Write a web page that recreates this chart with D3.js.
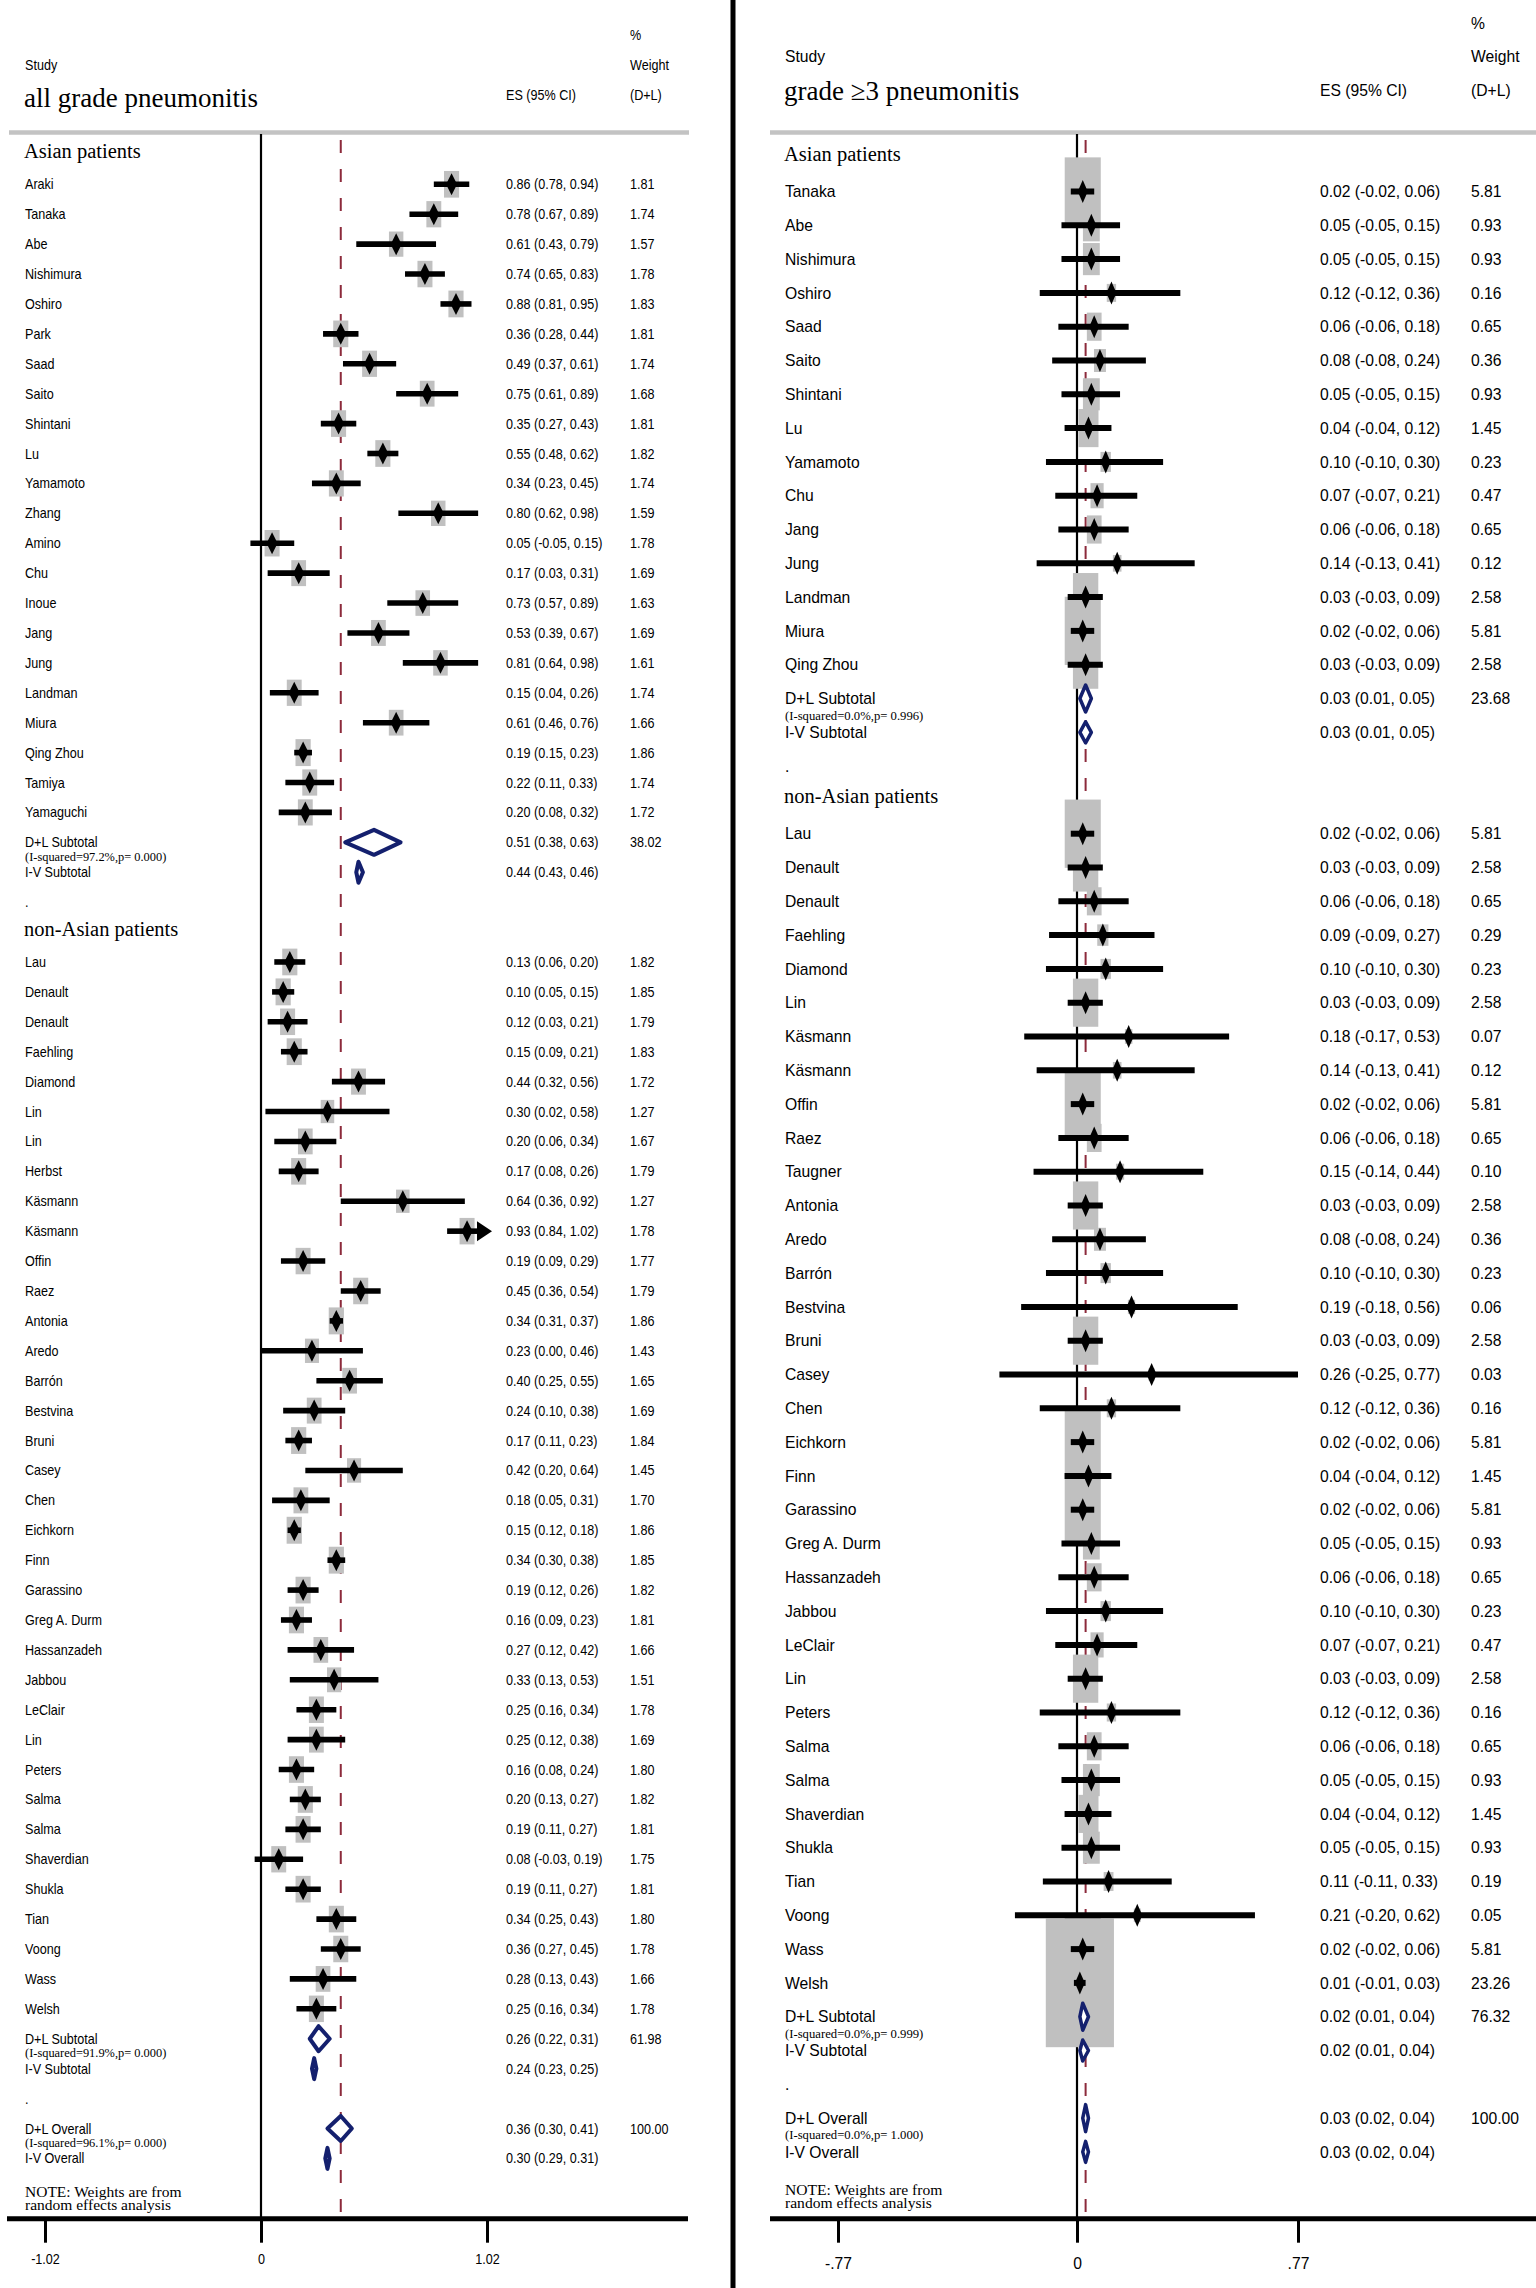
<!DOCTYPE html>
<html>
<head>
<meta charset="utf-8">
<script src="https://cdn.jsdelivr.net/npm/d3@7"></script>
<style>
  body { margin: 0; background: #fff; }
</style>
</head>
<body>
<div id="chart"></div>
<script>
// ---------- all grade pneumonitis ----------
const allAsianStudy = ["Araki","Tanaka","Abe","Nishimura","Oshiro","Park","Saad","Saito","Shintani","Lu","Yamamoto","Zhang","Amino","Chu","Inoue","Jang","Jung","Landman","Miura","Qing Zhou","Tamiya","Yamaguchi"]
const allAsianES = [0.86,0.78,0.61,0.74,0.88,0.36,0.49,0.75,0.35,0.55,0.34,0.80,0.05,0.17,0.73,0.53,0.81,0.15,0.61,0.19,0.22,0.20]
const allAsianLo = [0.78,0.67,0.43,0.65,0.81,0.28,0.37,0.61,0.27,0.48,0.23,0.62,-0.05,0.03,0.57,0.39,0.64,0.04,0.46,0.15,0.11,0.08]
const allAsianHi = [0.94,0.89,0.79,0.83,0.95,0.44,0.61,0.89,0.43,0.62,0.45,0.98,0.15,0.31,0.89,0.67,0.98,0.26,0.76,0.23,0.33,0.32]
const allAsianWt = [1.81,1.74,1.57,1.78,1.83,1.81,1.74,1.68,1.81,1.82,1.74,1.59,1.78,1.69,1.63,1.69,1.61,1.74,1.66,1.86,1.74,1.72]
const allAsianDL = [0.51, 0.38, 0.63, 38.02]
const allAsianHet = ["97.2%", "0.000"]
const allAsianIV = [0.44, 0.43, 0.46]

const allNonAsianStudy = ["Lau","Denault","Denault","Faehling","Diamond","Lin","Lin","Herbst","Käsmann","Käsmann","Offin","Raez","Antonia","Aredo","Barrón","Bestvina","Bruni","Casey","Chen","Eichkorn","Finn","Garassino","Greg A. Durm","Hassanzadeh","Jabbou","LeClair","Lin","Peters","Salma","Salma","Shaverdian","Shukla","Tian","Voong","Wass","Welsh"]
const allNonAsianES = [0.13,0.10,0.12,0.15,0.44,0.30,0.20,0.17,0.64,0.93,0.19,0.45,0.34,0.23,0.40,0.24,0.17,0.42,0.18,0.15,0.34,0.19,0.16,0.27,0.33,0.25,0.25,0.16,0.20,0.19,0.08,0.19,0.34,0.36,0.28,0.25]
const allNonAsianLo = [0.06,0.05,0.03,0.09,0.32,0.02,0.06,0.08,0.36,0.84,0.09,0.36,0.31,0.00,0.25,0.10,0.11,0.20,0.05,0.12,0.30,0.12,0.09,0.12,0.13,0.16,0.12,0.08,0.13,0.11,-0.03,0.11,0.25,0.27,0.13,0.16]
const allNonAsianHi = [0.20,0.15,0.21,0.21,0.56,0.58,0.34,0.26,0.92,1.02,0.29,0.54,0.37,0.46,0.55,0.38,0.23,0.64,0.31,0.18,0.38,0.26,0.23,0.42,0.53,0.34,0.38,0.24,0.27,0.27,0.19,0.27,0.43,0.45,0.43,0.34]
const allNonAsianWt = [1.82,1.85,1.79,1.83,1.72,1.27,1.67,1.79,1.27,1.78,1.77,1.79,1.86,1.43,1.65,1.69,1.84,1.45,1.70,1.86,1.85,1.82,1.81,1.66,1.51,1.78,1.69,1.80,1.82,1.81,1.75,1.81,1.80,1.78,1.66,1.78]
const allNonAsianArrow = [9]   // CI cut at the axis edge
const allNonAsianDL = [0.26, 0.22, 0.31, 61.98]
const allNonAsianHet = ["91.9%", "0.000"]
const allNonAsianIV = [0.24, 0.23, 0.25]

const allOverallDL = [0.36, 0.30, 0.41, 100.00]
const allOverallHet = ["96.1%", "0.000"]
const allOverallIV = [0.30, 0.29, 0.31]
const allTicks = [-1.02, 0, 1.02]
const allTickLabels = ["-1.02", "0", "1.02"]

// ---------- grade >=3 pneumonitis ----------
const g3AsianStudy = ["Tanaka","Abe","Nishimura","Oshiro","Saad","Saito","Shintani","Lu","Yamamoto","Chu","Jang","Jung","Landman","Miura","Qing Zhou"]
const g3AsianES = [0.02,0.05,0.05,0.12,0.06,0.08,0.05,0.04,0.10,0.07,0.06,0.14,0.03,0.02,0.03]
const g3AsianLo = [-0.02,-0.05,-0.05,-0.12,-0.06,-0.08,-0.05,-0.04,-0.10,-0.07,-0.06,-0.13,-0.03,-0.02,-0.03]
const g3AsianHi = [0.06,0.15,0.15,0.36,0.18,0.24,0.15,0.12,0.30,0.21,0.18,0.41,0.09,0.06,0.09]
const g3AsianWt = [5.81,0.93,0.93,0.16,0.65,0.36,0.93,1.45,0.23,0.47,0.65,0.12,2.58,5.81,2.58]
const g3AsianDL = [0.03, 0.01, 0.05, 23.68]
const g3AsianHet = ["0.0%", "0.996"]
const g3AsianIV = [0.03, 0.01, 0.05]

const g3NonAsianStudy = ["Lau","Denault","Denault","Faehling","Diamond","Lin","Käsmann","Käsmann","Offin","Raez","Taugner","Antonia","Aredo","Barrón","Bestvina","Bruni","Casey","Chen","Eichkorn","Finn","Garassino","Greg A. Durm","Hassanzadeh","Jabbou","LeClair","Lin","Peters","Salma","Salma","Shaverdian","Shukla","Tian","Voong","Wass","Welsh"]
const g3NonAsianES = [0.02,0.03,0.06,0.09,0.10,0.03,0.18,0.14,0.02,0.06,0.15,0.03,0.08,0.10,0.19,0.03,0.26,0.12,0.02,0.04,0.02,0.05,0.06,0.10,0.07,0.03,0.12,0.06,0.05,0.04,0.05,0.11,0.21,0.02,0.01]
const g3NonAsianLo = [-0.02,-0.03,-0.06,-0.09,-0.10,-0.03,-0.17,-0.13,-0.02,-0.06,-0.14,-0.03,-0.08,-0.10,-0.18,-0.03,-0.25,-0.12,-0.02,-0.04,-0.02,-0.05,-0.06,-0.10,-0.07,-0.03,-0.12,-0.06,-0.05,-0.04,-0.05,-0.11,-0.20,-0.02,-0.01]
const g3NonAsianHi = [0.06,0.09,0.18,0.27,0.30,0.09,0.53,0.41,0.06,0.18,0.44,0.09,0.24,0.30,0.56,0.09,0.77,0.36,0.06,0.12,0.06,0.15,0.18,0.30,0.21,0.09,0.36,0.18,0.15,0.12,0.15,0.33,0.62,0.06,0.03]
const g3NonAsianWt = [5.81,2.58,0.65,0.29,0.23,2.58,0.07,0.12,5.81,0.65,0.10,2.58,0.36,0.23,0.06,2.58,0.03,0.16,5.81,1.45,5.81,0.93,0.65,0.23,0.47,2.58,0.16,0.65,0.93,1.45,0.93,0.19,0.05,5.81,23.26]
const g3NonAsianDL = [0.02, 0.01, 0.04, 76.32]
const g3NonAsianHet = ["0.0%", "0.999"]
const g3NonAsianIV = [0.02, 0.01, 0.04]

const g3OverallDL = [0.03, 0.02, 0.04, 100.00]
const g3OverallHet = ["0.0%", "1.000"]
const g3OverallIV = [0.03, 0.02, 0.04]
const g3Ticks = [-0.77, 0, 0.77]
const g3TickLabels = ["-.77", "0", ".77"]

const SANS = "'Liberation Sans', Arial, Helvetica, sans-serif"
const SERIF = "'Liberation Serif', 'Times New Roman', Times, serif"
const NAVY = "#14206e"
const MAROON = "#8c2a3b"
const BOXGRAY = "#c0c0c0"

const svg = d3.select("#chart").append("svg")
    .attr("width", 1536)
    .attr("height", 2288)
    .style("background", "#fff")

const panels = [
  {
    title: "all grade pneumonitis",
    groups: [
      {label: "Asian patients", study: allAsianStudy, es: allAsianES, lo: allAsianLo, hi: allAsianHi, wt: allAsianWt, arrow: [], dl: allAsianDL, het: allAsianHet, iv: allAsianIV},
      {label: "non-Asian patients", study: allNonAsianStudy, es: allNonAsianES, lo: allNonAsianLo, hi: allNonAsianHi, wt: allNonAsianWt, arrow: allNonAsianArrow, dl: allNonAsianDL, het: allNonAsianHet, iv: allNonAsianIV}
    ],
    overall: {dl: allOverallDL, het: allOverallHet, iv: allOverallIV},
    ticks: allTicks, tickLabels: allTickLabels,
    xRange: [45, 261, 487],
    row0: 154.4, rowStep: 29.91,
    sep: [9, 689], axisLine: [7, 688],
    col: {study: 25, es: 506, wt: 630},
    head: {pct: 39.5, weight: 70, dl: 100, study: 70, es: 100, title: 106.5},
    fs: 14, sx: 0.9,
    headOff: 3.5, hetOff: 18.5, hetFs: 12.4, noteFs: 15.5, noteY: [2197, 2210],
    mark: {hw: 5.5, hh: 11, ci: 5.6},
    pool: {dl: 12.5, iv: 10.5, sw: 4},
    box: {h: [5.8, 15.5], w: [5.4, 7.2]},
    tickText: 45
  },
  {
    title: "grade \u22653 pneumonitis",
    groups: [
      {label: "Asian patients", study: g3AsianStudy, es: g3AsianES, lo: g3AsianLo, hi: g3AsianHi, wt: g3AsianWt, arrow: [], dl: g3AsianDL, het: g3AsianHet, iv: g3AsianIV},
      {label: "non-Asian patients", study: g3NonAsianStudy, es: g3NonAsianES, lo: g3NonAsianLo, hi: g3NonAsianHi, wt: g3NonAsianWt, arrow: [], dl: g3NonAsianDL, het: g3NonAsianHet, iv: g3NonAsianIV}
    ],
    overall: {dl: g3OverallDL, het: g3OverallHet, iv: g3OverallIV},
    ticks: g3Ticks, tickLabels: g3TickLabels,
    xRange: [838, 1077, 1298],
    row0: 157.7, rowStep: 33.8,
    sep: [770, 1536], axisLine: [770, 1536],
    col: {study: 785, es: 1320, wt: 1471},
    head: {pct: 29, weight: 62, dl: 96, study: 62, es: 96, title: 100},
    fs: 16, sx: 0.98,
    headOff: 3, hetOff: 21, hetFs: 12.7, noteFs: 15.6, noteY: [2195, 2208],
    mark: {hw: 5, hh: 11.5, ci: 6},
    pool: {dl: 13.5, iv: 10.5, sw: 3.5},
    box: {h: [8, 25], w: [4, 13.3]},
    tickText: 50
  }
]

const f2 = v => v.toFixed(2)
const esText = (es, lo, hi) => `${f2(es)} (${f2(lo)}, ${f2(hi)})`

function label(g, x, y, s, font, size, sx, anchor) {
  return g.append("text")
      .attr("transform", `translate(${x},${y}) scale(${sx},1)`)
      .attr("font-family", font)
      .attr("font-size", size)
      .attr("text-anchor", anchor || "start")
      .attr("fill", "#000")
      .text(s)
}

function buildRows(P) {
  const rows = []
  let r = 0
  P.groups.forEach(gr => {
    rows.push({type: "head", r: r++, label: gr.label})
    gr.study.forEach((s, i) => rows.push({
      type: "study", r: r++, label: s,
      es: gr.es[i], lo: gr.lo[i], hi: gr.hi[i], wt: gr.wt[i],
      arrow: gr.arrow.includes(i)
    }))
    rows.push({type: "dl", r: r++, label: "D+L Subtotal", es: gr.dl[0], lo: gr.dl[1], hi: gr.dl[2], wt: gr.dl[3], het: gr.het})
    rows.push({type: "iv", r: r++, label: "I-V Subtotal", es: gr.iv[0], lo: gr.iv[1], hi: gr.iv[2]})
    rows.push({type: "blank", r: r++, label: "."})
  })
  const o = P.overall
  rows.push({type: "dl", r: r++, label: "D+L Overall", es: o.dl[0], lo: o.dl[1], hi: o.dl[2], wt: o.dl[3], het: o.het})
  rows.push({type: "iv", r: r++, label: "I-V Overall", es: o.iv[0], lo: o.iv[1], hi: o.iv[2]})
  return rows
}

function drawPanel(P) {
  const g = svg.append("g")
  const x = d3.scaleLinear().domain(P.ticks).range(P.xRange)
  const y = d3.scaleLinear().domain([0, 1]).range([P.row0, P.row0 + P.rowStep])
  const rows = buildRows(P)
  const studies = rows.filter(d => d.type === "study")
  const pooled = rows.filter(d => d.type === "dl" || d.type === "iv")
  const base = P.fs * 0.36
  const axisY = 2218.7

  // header
  g.append("line")
      .attr("x1", P.sep[0]).attr("x2", P.sep[1])
      .attr("y1", 132.5).attr("y2", 132.5)
      .attr("stroke", "#c3c3c3").attr("stroke-width", 4.4)
  label(g, P.col.wt, P.head.pct, "%", SANS, P.fs, P.sx)
  label(g, P.col.wt, P.head.weight, "Weight", SANS, P.fs, P.sx)
  label(g, P.col.wt, P.head.dl, "(D+L)", SANS, P.fs, P.sx)
  label(g, P.col.study, P.head.study, "Study", SANS, P.fs, P.sx)
  label(g, P.col.es, P.head.es, "ES (95% CI)", SANS, P.fs, P.sx)
  label(g, P.col.study - 1, P.head.title, P.title, SERIF, 27, 1)

  // overall line (dashed) and null line
  g.append("line")
      .attr("x1", x(P.overall.dl[0])).attr("x2", x(P.overall.dl[0]))
      .attr("y1", 140).attr("y2", axisY - 2)
      .attr("stroke", MAROON).attr("stroke-width", 2)
      .attr("stroke-dasharray", "13,16")
  g.append("line")
      .attr("x1", x(0)).attr("x2", x(0))
      .attr("y1", 134).attr("y2", axisY)
      .attr("stroke", "#000").attr("stroke-width", 2.2)

  // weight boxes
  g.selectAll("rect.box").data(studies).join("rect")
      .attr("class", "box")
      .attr("x", d => x(d.es) - (P.box.w[0] + P.box.w[1] * Math.sqrt(d.wt)) / 2)
      .attr("y", d => y(d.r) - (P.box.h[0] + P.box.h[1] * Math.sqrt(d.wt)) / 2)
      .attr("width", d => P.box.w[0] + P.box.w[1] * Math.sqrt(d.wt))
      .attr("height", d => P.box.h[0] + P.box.h[1] * Math.sqrt(d.wt))
      .attr("fill", BOXGRAY)

  // confidence intervals
  g.selectAll("line.ci").data(studies).join("line")
      .attr("class", "ci")
      .attr("x1", d => x(d.lo))
      .attr("x2", d => d.arrow ? x(d.hi) - 8 : x(d.hi))
      .attr("y1", d => y(d.r)).attr("y2", d => y(d.r))
      .attr("stroke", "#000").attr("stroke-width", P.mark.ci)
  g.selectAll("path.arrow").data(studies.filter(d => d.arrow)).join("path")
      .attr("class", "arrow")
      .attr("d", d => `M${x(d.hi) - 10},${y(d.r) - 10} L${x(d.hi) + 5},${y(d.r)} L${x(d.hi) - 10},${y(d.r) + 10} Z`)
      .attr("fill", "#000")

  // point estimates
  const m = P.mark
  g.selectAll("path.mk").data(studies).join("path")
      .attr("class", "mk")
      .attr("d", d => {
        const cx = x(d.es), cy = y(d.r)
        return `M${cx - m.hw},${cy} L${cx},${cy - m.hh} L${cx + m.hw},${cy} L${cx},${cy + m.hh} Z`
      })
      .attr("fill", "#000")

  // pooled diamonds
  g.selectAll("path.pool").data(pooled).join("path")
      .attr("class", "pool")
      .attr("d", d => {
        const cy = y(d.r), hh = d.type === "dl" ? P.pool.dl : P.pool.iv
        return `M${x(d.lo)},${cy} L${x(d.es)},${cy - hh} L${x(d.hi)},${cy} L${x(d.es)},${cy + hh} Z`
      })
      .attr("fill", "#fff")
      .attr("stroke", NAVY).attr("stroke-width", P.pool.sw)
      .attr("stroke-linejoin", "round")

  // row text
  rows.forEach(d => {
    const cy = y(d.r)
    if (d.type === "head") {
      label(g, P.col.study - 1, cy + P.headOff, d.label, SERIF, 20.5, 1)
      return
    }
    label(g, P.col.study, cy + base, d.label, SANS, P.fs, P.sx)
    if (d.type === "blank") return
    label(g, P.col.es, cy + base, esText(d.es, d.lo, d.hi), SANS, P.fs, P.sx)
    if (d.wt !== undefined) label(g, P.col.wt, cy + base, f2(d.wt), SANS, P.fs, P.sx)
    if (d.het) label(g, P.col.study, cy + P.hetOff, `(I-squared=${d.het[0]},p= ${d.het[1]})`, SERIF, P.hetFs, 1)
  })
  label(g, P.col.study, P.noteY[0], "NOTE: Weights are from", SERIF, P.noteFs, 1)
  label(g, P.col.study, P.noteY[1], "random effects analysis", SERIF, P.noteFs, 1)

  // x axis
  g.append("line")
      .attr("x1", P.axisLine[0]).attr("x2", P.axisLine[1])
      .attr("y1", axisY).attr("y2", axisY)
      .attr("stroke", "#000").attr("stroke-width", 5)
  const ax = g.append("g")
      .attr("transform", `translate(0,${axisY})`)
      .call(d3.axisBottom(x).tickValues(P.ticks).tickFormat((d, i) => P.tickLabels[i]).tickSize(24))
  ax.select(".domain").remove()
  ax.selectAll(".tick line").attr("stroke", "#000").attr("stroke-width", 3)
  ax.selectAll(".tick text")
      .attr("y", P.tickText).attr("dy", null)
      .attr("fill", "#000")
      .attr("font-family", SANS).attr("font-size", P.fs)
      .attr("transform", `scale(${P.sx},1)`)
}

panels.forEach(drawPanel)

// divider between the two plots
svg.append("line")
    .attr("x1", 733).attr("x2", 733)
    .attr("y1", 0).attr("y2", 2288)
    .attr("stroke", "#000").attr("stroke-width", 5)
</script>
</body>
</html>
